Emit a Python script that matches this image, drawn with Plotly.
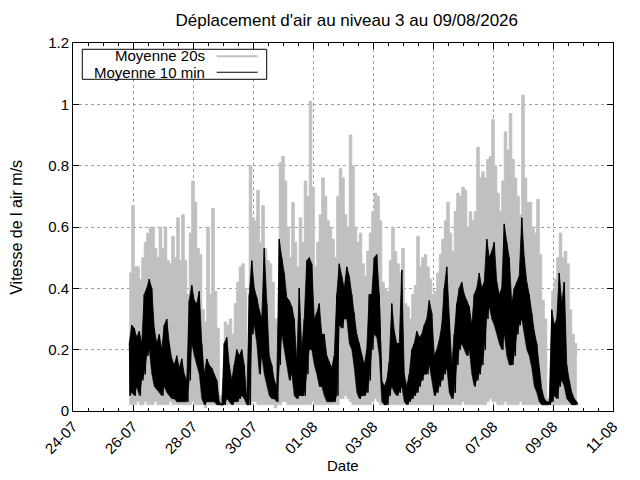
import plotly.graph_objects as go
import pandas as pd

# Valeurs lues par tranche de 2 h à partir du 25/07/2026 21:00
# (max et min de chaque tranche)
debut = "2026-07-25 21:00"

gris_max = [
    0.45, 0.67, 0.47, 0.47, 0.43, 0.50, 0.55, 0.58, 0.60, 0.60, 0.53, 0.50,
    0.60, 0.53, 0.60, 0.49, 0.48, 0.57, 0.50, 0.63, 0.49, 0.64, 0.49, 0.38,
    0.58, 0.75, 0.68, 0.53, 0.51, 0.33, 0.29, 0.60, 0.38, 0.66, 0.39, 0.27,
    0.05, 0.04, 0.29, 0.28, 0.30, 0.25, 0.35, 0.42, 0.47, 0.48, 0.40, 0.10,
    0.80, 0.63, 0.62, 0.72, 0.55, 0.67, 0.53, 0.49, 0.48, 0.42, 0.30, 0.28,
    0.81, 0.83, 0.75, 0.60, 0.50, 0.68, 0.55, 0.47, 0.63, 0.55, 0.75, 0.70,
    1.01, 0.73, 0.47, 0.55, 0.64, 0.76, 0.70, 0.62, 0.60, 0.56, 0.50, 0.70,
    0.79, 0.76, 0.64, 0.60, 0.90, 0.80, 0.60, 0.55, 0.58, 0.48, 0.44, 0.52,
    0.58, 0.65, 0.71, 0.70, 0.62, 0.42, 0.40, 0.39, 0.49, 0.60, 0.52, 0.48,
    0.45, 0.53, 0.35, 0.34, 0.30, 0.38, 0.41, 0.57, 0.47, 0.50, 0.51, 0.47,
    0.43, 0.38, 0.39, 0.45, 0.51, 0.56, 0.62, 0.68, 0.58, 0.52, 0.65, 0.71,
    0.70, 0.73, 0.72, 0.60, 0.65, 0.62, 0.65, 0.86, 0.76, 0.78, 0.76, 0.82,
    0.83, 0.95, 0.80, 0.71, 0.65, 0.75, 0.91, 0.85, 0.97, 0.82, 0.76, 0.70,
    0.64, 1.03, 0.76, 0.68, 0.68, 0.60, 0.58, 0.69, 0.51, 0.36, 0.30, 0.04,
    0.05, 0.39, 0.43, 0.50, 0.58, 0.50, 0.52, 0.48, 0.33, 0.25, 0.22, 0.18,
]
gris_min = [
    0.02, 0.02, 0.02, 0.03, 0.02, 0.02, 0.03, 0.02, 0.02, 0.02, 0.03, 0.02,
    0.02, 0.02, 0.02, 0.02, 0.03, 0.02, 0.02, 0.02, 0.02, 0.02, 0.02, 0.02,
    0.02, 0.03, 0.02, 0.02, 0.02, 0.02, 0.01, 0.02, 0.02, 0.02, 0.02, 0.02,
    0.02, 0.02, 0.02, 0.02, 0.02, 0.02, 0.02, 0.02, 0.02, 0.02, 0.02, 0.02,
    0.02, 0.03, 0.03, 0.02, 0.02, 0.02, 0.02, 0.02, 0.02, 0.02, 0.01, 0.02,
    0.02, 0.03, 0.03, 0.02, 0.02, 0.02, 0.02, 0.02, 0.02, 0.02, 0.02, 0.02,
    0.02, 0.03, 0.02, 0.02, 0.02, 0.02, 0.02, 0.02, 0.02, 0.02, 0.02, 0.02,
    0.04, 0.04, 0.05, 0.04, 0.03, 0.02, 0.02, 0.02, 0.02, 0.02, 0.02, 0.02,
    0.02, 0.03, 0.04, 0.03, 0.02, 0.02, 0.02, 0.02, 0.02, 0.02, 0.02, 0.02,
    0.02, 0.02, 0.02, 0.02, 0.02, 0.02, 0.02, 0.02, 0.02, 0.02, 0.02, 0.02,
    0.02, 0.02, 0.02, 0.02, 0.02, 0.02, 0.02, 0.02, 0.02, 0.02, 0.02, 0.02,
    0.02, 0.03, 0.02, 0.02, 0.02, 0.02, 0.02, 0.02, 0.02, 0.02, 0.02, 0.03,
    0.04, 0.03, 0.03, 0.02, 0.02, 0.02, 0.03, 0.02, 0.02, 0.02, 0.02, 0.02,
    0.03, 0.02, 0.02, 0.02, 0.02, 0.02, 0.02, 0.02, 0.02, 0.02, 0.02, 0.02,
    0.02, 0.02, 0.02, 0.02, 0.02, 0.02, 0.02, 0.02, 0.02, 0.02, 0.02, 0.02,
]
noir_max = [
    0.22, 0.28, 0.27, 0.24, 0.26, 0.22, 0.38, 0.40, 0.43, 0.40, 0.27, 0.22,
    0.25, 0.20, 0.28, 0.30, 0.22, 0.17, 0.15, 0.18, 0.14, 0.17, 0.12, 0.10,
    0.36, 0.41, 0.36, 0.35, 0.39, 0.22, 0.12, 0.17, 0.15, 0.14, 0.12, 0.10,
    0.03, 0.02, 0.22, 0.24, 0.15, 0.10, 0.15, 0.20, 0.18, 0.20, 0.15, 0.03,
    0.38, 0.49, 0.40, 0.37, 0.33, 0.30, 0.53, 0.35, 0.18, 0.15, 0.10, 0.08,
    0.56, 0.50, 0.45, 0.37, 0.36, 0.34, 0.30, 0.16, 0.40, 0.20, 0.30, 0.49,
    0.50, 0.48, 0.30, 0.32, 0.35, 0.25, 0.25, 0.18, 0.16, 0.14, 0.18, 0.38,
    0.48, 0.44, 0.40, 0.47, 0.44, 0.38, 0.32, 0.25, 0.22, 0.18, 0.15, 0.20,
    0.38, 0.38, 0.50, 0.51, 0.38, 0.10, 0.08, 0.10, 0.16, 0.35, 0.26, 0.22,
    0.22, 0.46, 0.12, 0.08, 0.12, 0.20, 0.22, 0.26, 0.24, 0.25, 0.28, 0.30,
    0.36, 0.32, 0.18, 0.20, 0.23, 0.28, 0.40, 0.47, 0.30, 0.15, 0.25, 0.35,
    0.40, 0.42, 0.38, 0.36, 0.34, 0.28, 0.38, 0.40, 0.45, 0.40, 0.42, 0.56,
    0.50, 0.52, 0.55, 0.42, 0.38, 0.40, 0.61, 0.55, 0.50, 0.35, 0.40, 0.42,
    0.44, 0.63, 0.50, 0.42, 0.38, 0.32, 0.26, 0.22, 0.14, 0.07, 0.04, 0.03,
    0.03, 0.33, 0.28, 0.30, 0.45, 0.35, 0.42, 0.15, 0.10, 0.06, 0.04, 0.03,
]
noir_min = [
    0.05, 0.06, 0.05, 0.08, 0.05, 0.10, 0.12, 0.18, 0.20, 0.12, 0.08, 0.07,
    0.06, 0.05, 0.08, 0.06, 0.05, 0.04, 0.04, 0.03, 0.03, 0.03, 0.03, 0.03,
    0.10, 0.22, 0.18, 0.15, 0.12, 0.04, 0.02, 0.03, 0.03, 0.03, 0.03, 0.02,
    0.02, 0.02, 0.02, 0.04, 0.03, 0.02, 0.03, 0.03, 0.04, 0.05, 0.04, 0.02,
    0.02, 0.25, 0.28, 0.22, 0.12, 0.18, 0.12, 0.08, 0.05, 0.04, 0.04, 0.03,
    0.15, 0.25, 0.20, 0.15, 0.10, 0.12, 0.05, 0.04, 0.05, 0.05, 0.05, 0.12,
    0.20, 0.20, 0.15, 0.12, 0.08, 0.08, 0.05, 0.03, 0.03, 0.03, 0.03, 0.05,
    0.28, 0.27, 0.30, 0.30, 0.22, 0.20, 0.14, 0.06, 0.04, 0.05, 0.05, 0.06,
    0.10, 0.20, 0.25, 0.24, 0.18, 0.03, 0.02, 0.02, 0.05, 0.08, 0.06, 0.05,
    0.06, 0.08, 0.03, 0.02, 0.03, 0.04, 0.05, 0.06, 0.08, 0.10, 0.12, 0.12,
    0.15, 0.10, 0.05, 0.06, 0.08, 0.10, 0.12, 0.14, 0.06, 0.04, 0.06, 0.15,
    0.20, 0.22, 0.20, 0.18, 0.20, 0.12, 0.08, 0.10, 0.12, 0.15, 0.20, 0.30,
    0.34, 0.30, 0.28, 0.25, 0.22, 0.20, 0.25, 0.18, 0.15, 0.15, 0.18, 0.25,
    0.28, 0.30, 0.25, 0.20, 0.18, 0.14, 0.08, 0.06, 0.03, 0.02, 0.02, 0.02,
    0.02, 0.03, 0.05, 0.04, 0.08, 0.10, 0.08, 0.04, 0.03, 0.02, 0.02, 0.02,
]

temps = pd.date_range(debut, periods=len(gris_max), freq="2h")
# zigzag horaire (une valeur haute puis une basse) pour la texture de la courbe noire
temps_h = pd.date_range(debut, periods=2 * len(noir_max), freq="1h")
y_noir = [v for paire in zip(noir_max, noir_min) for v in paire]

police = "Liberation Sans, Arial, sans-serif"
GRIS = "#c0c0c0"

fig = go.Figure()

# Moyenne 20s : zone grise en marches entre min et max
fig.add_trace(go.Scatter(
    x=temps, y=gris_min, mode="lines", line_shape="hv",
    line=dict(color=GRIS, width=0.5), showlegend=False, hoverinfo="skip",
))
fig.add_trace(go.Scatter(
    x=temps, y=gris_max, mode="lines", name="Moyenne 20s", line_shape="hv",
    fill="tonexty", fillcolor=GRIS,
    line=dict(color=GRIS, width=1), showlegend=False,
))

# Moyenne 10 min : bande noire
fig.add_trace(go.Scatter(
    x=temps, y=noir_min, mode="lines",
    line=dict(color="black", width=0.5), showlegend=False, hoverinfo="skip",
))
fig.add_trace(go.Scatter(
    x=temps, y=noir_max, mode="lines",
    fill="tonexty", fillcolor="black",
    line=dict(color="black", width=0.8), showlegend=False, hoverinfo="skip",
))
fig.add_trace(go.Scatter(
    x=temps_h, y=y_noir, mode="lines", name="Moyenne 10 min",
    line=dict(color="black", width=1), showlegend=False,
))

axe = dict(
    showline=True, linecolor="black", linewidth=1, mirror="ticks",
    ticks="inside", ticklen=6, tickcolor="black",
    showgrid=True, gridcolor="#a0a0a0", griddash="3px,3px", gridwidth=1,
    zeroline=False, tickfont=dict(size=15, color="black"),
)

# la page a une marge de 8 px : figure 632x472 pour tenir dans la fenêtre
fig.update_layout(
    width=632, height=472,
    margin=dict(l=65, r=27, t=35, b=69),
    paper_bgcolor="white", plot_bgcolor="white",
    font=dict(family=police, size=15, color="black"),
    title=dict(text="Déplacement d'air au niveau 3 au 09/08/2026",
               x=0.536, xanchor="center", y=0.975, yanchor="middle",
               font=dict(size=17)),
    xaxis=dict(
        axe, type="date", range=["2026-07-24", "2026-08-11"],
        tick0="2026-07-24", dtick=2 * 86400000, tickformat="%d-%m",
        tickangle=-45,
        minor=dict(dtick=43200000, ticks="inside", ticklen=3,
                   tickcolor="black", showgrid=False),
    ),
    yaxis=dict(axe, range=[0, 1.2], dtick=0.2, tick0=0),
    showlegend=False,
)

# titres des axes
fig.add_annotation(text="Vitesse de l air m/s", xref="paper", yref="paper",
                   x=-0.106, y=0.5, textangle=-90, showarrow=False,
                   xanchor="center", yanchor="middle", font=dict(size=16))
fig.add_annotation(text="Date", xref="paper", yref="paper",
                   x=0.5, y=-0.149, showarrow=False,
                   xanchor="center", yanchor="middle", font=dict(size=15))

# légende façon gnuplot (texte à gauche, trait à droite)
fig.add_shape(type="rect", xref="paper", yref="paper",
              x0=0.0172, x1=0.3587, y0=0.9014, y1=0.9829,
              line=dict(color="black", width=1), fillcolor="white")
fig.add_annotation(text="Moyenne 20s", xref="paper", yref="paper",
                   x=0.2481, y=0.9650, showarrow=False,
                   xanchor="right", yanchor="middle", font=dict(size=15))
fig.add_annotation(text="Moyenne 10 min", xref="paper", yref="paper",
                   x=0.2481, y=0.9205, showarrow=False,
                   xanchor="right", yanchor="middle", font=dict(size=15))
fig.add_shape(type="line", xref="paper", yref="paper",
              x0=0.2661, x1=0.3420, y0=0.9640, y1=0.9640,
              line=dict(color=GRIS, width=2))
fig.add_shape(type="line", xref="paper", yref="paper",
              x0=0.2661, x1=0.3420, y0=0.9205, y1=0.9205,
              line=dict(color="black", width=1))

fig.write_html("out.html")
